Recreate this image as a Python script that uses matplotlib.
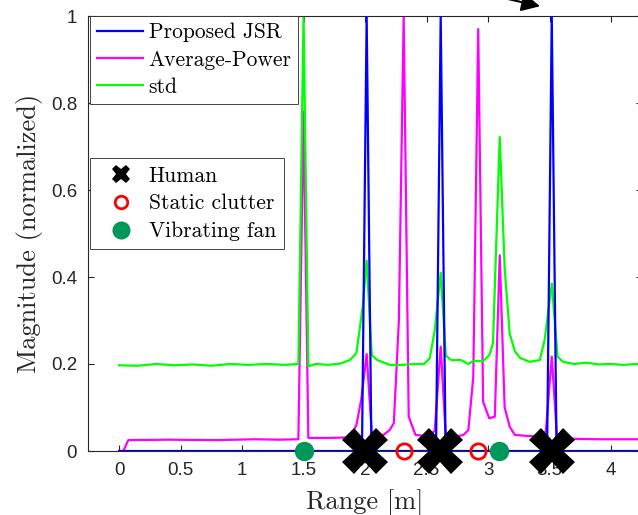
import matplotlib
matplotlib.use("Agg")
from matplotlib import pyplot as plt
from matplotlib.lines import Line2D

# range samples (vertices only)
jsr_x = [0, 1.975, 2.013, 2.052, 2.577, 2.615, 2.655, 3.48, 3.518, 3.557, 4.3]
jsr_y = [0, 0, 1.0, 0, 0, 1.0, 0, 0, 1.0, 0, 0]

avg_x = [0, 0.035, 0.075, 0.4, 0.8, 1.1, 1.3, 1.458, 1.5, 1.539, 1.7, 1.84,
         1.884, 1.93, 1.97, 2.013, 2.055, 2.1, 2.15, 2.2, 2.234, 2.275, 2.314,
         2.355, 2.41, 2.48, 2.526, 2.567, 2.615, 2.656, 2.74, 2.8, 2.84, 2.88,
         2.92, 2.96, 3.01, 3.055, 3.095, 3.135, 3.176, 3.217, 3.3, 3.42, 3.47,
         3.518, 3.56, 3.7, 3.9, 4.1, 4.3]
avg_y = [0, 0, 0.025, 0.026, 0.025, 0.027, 0.026, 0.027, 0.78, 0.03, 0.03, 0.031,
         0.033, 0.06, 0.12, 0.223, 0.04, 0.037, 0.037, 0.048, 0.064, 0.30, 1.0,
         0.079, 0.037, 0.035, 0.033, 0.048, 0.24, 0.035, 0.033, 0.037, 0.048, 0.171,
         0.97, 0.113, 0.075, 0.079, 0.45, 0.10, 0.056, 0.037, 0.035, 0.033, 0.045,
         0.217, 0.033, 0.028, 0.027, 0.027, 0.027]

std_x = [0, 0.15, 0.3, 0.45, 0.6, 0.75, 0.9, 1.05, 1.2, 1.35, 1.458, 1.5, 1.539,
         1.6, 1.7, 1.8, 1.876, 1.93, 1.98, 2.013, 2.055, 2.1, 2.2, 2.3, 2.4,
         2.48, 2.526, 2.567, 2.615, 2.656, 2.7, 2.78, 2.84, 2.88, 2.96, 3.01,
         3.04, 3.095, 3.135, 3.176, 3.217, 3.26, 3.34, 3.42, 3.46, 3.518, 3.565,
         3.61, 3.7, 3.8, 3.9, 4.0, 4.1, 4.2, 4.3]
std_y = [0.197, 0.196, 0.2, 0.197, 0.199, 0.196, 0.2, 0.198, 0.2, 0.198, 0.2, 1.0, 0.195,
         0.2, 0.198, 0.201, 0.209, 0.225, 0.33, 0.438, 0.22, 0.209, 0.198, 0.198, 0.2,
         0.2, 0.213, 0.278, 0.41, 0.22, 0.209, 0.209, 0.2, 0.207, 0.207, 0.22,
         0.247, 0.722, 0.42, 0.27, 0.23, 0.214, 0.205, 0.209, 0.255, 0.385, 0.217,
         0.205, 0.2, 0.203, 0.199, 0.2, 0.198, 0.2, 0.2]

human_x = [2.0, 2.61, 3.52]
clutter_x = [2.32, 2.92]
fan_x = [1.5, 3.085]

series_labels = ['Proposed JSR', 'Average-Power', 'std']
object_labels = ['Human', 'Static clutter', 'Vibrating fan']
xticks = [0, 0.5, 1, 1.5, 2, 2.5, 3, 3.5, 4]
yticks = [0, 0.2, 0.4, 0.6, 0.8, 1]

dark = '#262626'
fan_color = '#00975A'
serif = 'cmr10'

fig = plt.figure(figsize=(6.38, 5.15), dpi=100)
ax = fig.add_axes([88.3 / 638, 64 / 515, 553.5 / 638, 435 / 515])

l1, = ax.plot(jsr_x, jsr_y, color='#0000FF', lw=1.6, zorder=3)
l2, = ax.plot(avg_x, avg_y, color='#FF00FF', lw=1.6, zorder=2)
l3, = ax.plot(std_x, std_y, color='#00FF00', lw=1.6, zorder=2)

ax.plot(human_x, [0] * len(human_x), 'X', color='k', ms=33, mew=0,
        clip_on=False, zorder=5)
ax.plot(clutter_x, [0] * len(clutter_x), 'o', mfc='none', mec='#FF0000',
        ms=11, mew=2, clip_on=False, zorder=5)
ax.plot(fan_x, [0] * len(fan_x), 'o', color=fan_color, ms=14, mew=0,
        clip_on=False, zorder=5)

ax.set_xlim(-0.25, 4.25)
ax.set_ylim(0, 1)
ax.set_xticks(xticks)
ax.set_xticklabels([f'{t:g}' for t in xticks])
ax.set_yticks(yticks)
ax.set_yticklabels([f'{t:g}' for t in yticks])
ax.tick_params(direction='in', top=True, right=True, length=4, width=0.8,
               colors=dark, labelsize=13.5, pad=8)
for lab in ax.get_xticklabels() + ax.get_yticklabels():
    lab.set_fontfamily('Liberation Sans')
for s in ax.spines.values():
    s.set_color(dark)
    s.set_linewidth(0.8)

ax.set_xlabel('Range [m]', family=serif, fontsize=19, color=dark, labelpad=7)
ax.set_ylabel('Magnitude (normalized)', family=serif, fontsize=19, color=dark,
              labelpad=6)

leg1 = ax.legend([l1, l2, l3], series_labels, loc='upper left',
                 bbox_to_anchor=(0.003, 1.0), borderaxespad=0,
                 prop={'family': serif, 'size': 15.5}, frameon=True,
                 fancybox=False, edgecolor=dark, framealpha=1,
                 handlelength=2.15, handletextpad=0.25, labelspacing=0.36,
                 borderpad=0.32)
leg1.get_frame().set_linewidth(0.6)
ax.add_artist(leg1)

proxies = [
    Line2D([], [], ls='none', marker='X', color='k', ms=13, mew=0),
    Line2D([], [], ls='none', marker='o', mfc='none', mec='#FF0000', ms=9, mew=2),
    Line2D([], [], ls='none', marker='o', color=fan_color, ms=13, mew=0),
]
leg2 = ax.legend(proxies, object_labels, loc='upper left',
                 bbox_to_anchor=(0.003, 0.6736), borderaxespad=0,
                 prop={'family': serif, 'size': 15.5}, frameon=True,
                 fancybox=False, edgecolor=dark, framealpha=1,
                 handlelength=2.1, handletextpad=0.25, labelspacing=0.38,
                 borderpad=0.38)
leg2.get_frame().set_linewidth(0.6)

# arrows coming from annotations above the cropped area
ax.annotate('', xy=(3.445, 1.021), xytext=(2.6, 1.075),
            arrowprops=dict(arrowstyle='-|>', color='k', lw=1.5, mutation_scale=28),
            annotation_clip=False)
ax.annotate('', xy=(1.98, 1.034), xytext=(2.45, 1.12),
            arrowprops=dict(arrowstyle='-|>', color='k', lw=1.5, mutation_scale=28),
            annotation_clip=False)

fig.savefig('out.png', dpi=100)
